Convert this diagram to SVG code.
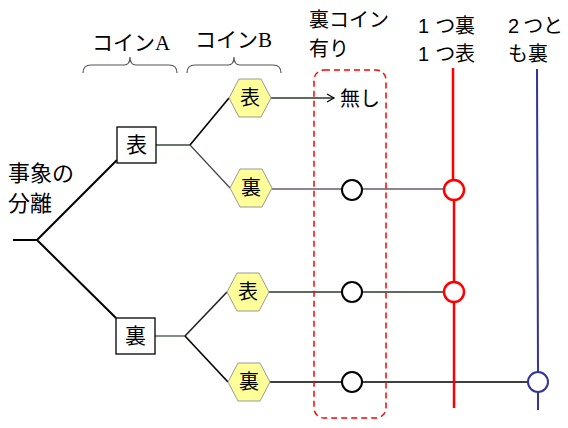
<svg xmlns="http://www.w3.org/2000/svg" width="568" height="428" viewBox="0 0 568 428">
<style>
text{font-family:"Noto Sans CJK JP","Liberation Sans",sans-serif;fill:#000}
.lbl{font-size:20px}
.dig{font-family:"Liberation Sans","Noto Sans CJK JP",sans-serif;font-size:20px}
.ser{font-family:"Liberation Serif","Noto Sans CJK JP",serif;font-size:20px}
.box{fill:#fff;stroke:#000;stroke-width:1.3}
.hex{fill:#ffff99;stroke:#999;stroke-width:1}
.nt{font-size:20px;text-anchor:middle}
.brace{fill:none;stroke:#555;stroke-width:1.2}
.dot{fill:#fff;stroke:#000;stroke-width:2}
.rdot{fill:#fff;stroke:#ff0000;stroke-width:2.5}
.bdot{fill:#fff;stroke:#333399;stroke-width:2}
</style>
<defs>
<marker id="arr" markerWidth="10" markerHeight="10" refX="8" refY="5" orient="auto" markerUnits="userSpaceOnUse">
<path d="M1,1 L8,5 L1,9" fill="none" stroke="#000" stroke-width="1.2"/>
</marker>
</defs>
<rect width="568" height="428" fill="#fff"/>

<g id="headers">
<text class="ser" x="92" y="50" style="font-size:21px">コインA</text>
<text class="ser" x="195" y="47" style="font-size:21px">コインB</text>
<path class="brace" d="M83,73 Q83,65 91,65 L124,65 Q130,65 130,57 Q130,65 136,65 L169,65 Q177,65 177,73"/>
<path class="brace" d="M187,73 Q187,65 195,65 L228,65 Q234,65 234,57 Q234,65 240,65 L273,65 Q281,65 281,73"/>
<text class="lbl" x="309" y="27">裏コイン</text>
<text class="lbl" x="309" y="56">有り</text>
<text class="dig" x="418" y="33">1<tspan dx="6">つ裏</tspan></text>
<text class="dig" x="418" y="61">1<tspan dx="6">つ表</tspan></text>
<text class="dig" x="508" y="33">2<tspan dx="4">つと</tspan></text>
<text class="lbl" x="508" y="61">も裏</text>
<text x="8" y="181" style="font-size:22px">事象の</text>
<text x="8" y="211" style="font-size:22px">分離</text>
</g>

<g id="connectors" fill="none">
<path d="M13,240 L37,240 M37,240 L117,160 M37,240 L116,318" stroke="#000" stroke-width="2"/>
<path d="M156,145 L190,145" stroke="#3a4a3a" stroke-width="1.5"/>
<path d="M190,145 L229,98" stroke="#000" stroke-width="1.6"/>
<path d="M190,145 L230,188" stroke="#4a404a" stroke-width="1.2"/>
<path d="M155,336 L185,336" stroke="#5a6a5a" stroke-width="1.5"/>
<path d="M185,336 L227,292" stroke="#222" stroke-width="1.6"/>
<path d="M185,336 L228,382" stroke="#000" stroke-width="1.6"/>
<path d="M271,98 L334,98" stroke="#2a3a2a" stroke-width="1.5" marker-end="url(#arr)"/>
<path d="M272,189 L342,189 M362,189 L444,189" stroke="#6b5b6b" stroke-width="1.5"/>
<path d="M269,292 L342,292 M362,292 L444,292" stroke="#2a3a2a" stroke-width="1.5"/>
<path d="M270,382 L342,382 M362,382 L528,382" stroke="#000" stroke-width="1.5"/>
<path d="M453,68 L453,180 M454,199 L454,282 M454,302 L454,408" stroke="#ff0000" stroke-width="2.5"/>
<path d="M537,69 L538,372 M538,392 L538,410" stroke="#333399" stroke-width="2"/>
<rect x="314" y="70" width="72" height="348" rx="10" stroke="#ff0000" stroke-width="1.5" stroke-dasharray="6,4"/>
</g>

<g id="nodeA1"><rect class="box" x="117" y="127" width="39" height="36"/><text class="nt" x="136.5" y="152" style="font-size:21px">表</text></g>
<g id="nodeA2"><rect class="box" x="116" y="318" width="39" height="36"/><text class="nt" x="135.5" y="343" style="font-size:21px">裏</text></g>

<g id="nodeB1"><polygon class="hex" points="229,98 239,79 261,79 271,98 261,117 239,117"/><text class="nt" x="250" y="105">表</text></g>
<g id="nodeB2"><polygon class="hex" points="230,188 240,169 262,169 272,188 262,207 240,207"/><text class="nt" x="251" y="195">裏</text></g>
<g id="nodeB3"><polygon class="hex" points="227,292 237,273 259,273 269,292 259,311 237,311"/><text class="nt" x="248" y="299">表</text></g>
<g id="nodeB4"><polygon class="hex" points="228,382 238,363 260,363 270,382 260,401 238,401"/><text class="nt" x="249" y="389">裏</text></g>

<g id="none-label"><text class="lbl" x="340" y="106">無し</text></g>

<g id="c1"><circle class="dot" cx="352" cy="190" r="10"/></g>
<g id="c2"><circle class="dot" cx="352" cy="292" r="10"/></g>
<g id="c3"><circle class="dot" cx="352" cy="382" r="10"/></g>
<g id="r1"><circle class="rdot" cx="454" cy="190" r="10"/></g>
<g id="r2"><circle class="rdot" cx="454" cy="292" r="10"/></g>
<g id="b1"><circle class="bdot" cx="538" cy="382" r="10"/></g>
</svg>
